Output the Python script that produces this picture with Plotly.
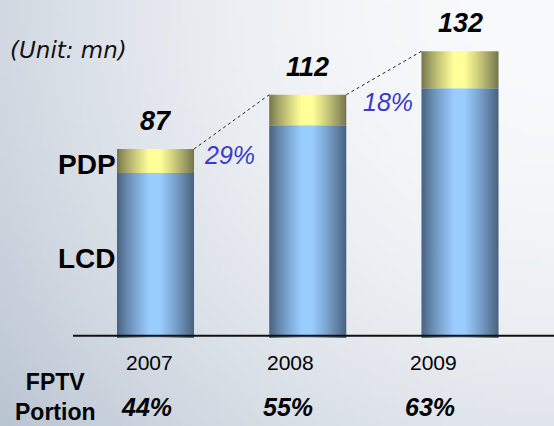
import base64
import struct
import zlib

import numpy as np
import plotly.graph_objects as go

# ---- data -------------------------------------------------------------
years = ["2007", "2008", "2009"]
lcd = [76, 98, 115]
pdp = [11, 14, 17]
totals = [87, 112, 132]
growth_labels = ["29%", "18%"]
fptv_portion = ["44%", "55%", "63%"]

# ---- helpers ----------------------------------------------------------
W, H = 554, 426
FONT = "Liberation Sans, Arial, sans-serif"


def png_data_uri(rgb):
    """Encode an (h, w, 3) uint8 array as a PNG data URI."""
    h, w, _ = rgb.shape
    raw = b"".join(b"\x00" + rgb[r].tobytes() for r in range(h))

    def chunk(tag, data):
        c = tag + data
        return struct.pack(">I", len(data)) + c + struct.pack(">I", zlib.crc32(c) & 0xFFFFFFFF)

    png = (b"\x89PNG\r\n\x1a\n"
           + chunk(b"IHDR", struct.pack(">IIBBBBB", w, h, 8, 2, 0, 0, 0))
           + chunk(b"IDAT", zlib.compress(raw, 9))
           + chunk(b"IEND", b""))
    return "data:image/png;base64," + base64.b64encode(png).decode()


# soft backdrop: light at the top-right corner, darker toward bottom-left
gw, gh = 111, 85
gx, gy = np.meshgrid(np.linspace(0, W, gw), np.linspace(0, H, gh))
d2 = ((W - gx) ** 2 + gy ** 2) / (W ** 2 + H ** 2)
light = np.array([249, 250, 252], float)
dark = np.array([186, 197, 210], float)
bg = light[None, None, :] + (dark - light)[None, None, :] * d2[..., None]
bg_uri = png_data_uri(np.clip(bg, 0, 255).astype(np.uint8))


def cylinder_scale(light_rgb, dark_rgb):
    """Horizontal colorscale: dark edges, bright band just left of centre."""
    def mix(f):
        return "rgb(%d,%d,%d)" % tuple(int(round(d + (l - d) * f)) for l, d in zip(light_rgb, dark_rgb))
    return [[0.0, mix(0.0)], [0.12, mix(0.35)], [0.28, mix(0.72)], [0.42, mix(1.0)],
            [0.56, mix(1.0)], [0.72, mix(0.68)], [0.88, mix(0.3)], [1.0, mix(0.0)]]


LCD_SCALE = cylinder_scale((153, 204, 255), (72, 97, 127))
PDP_SCALE = cylinder_scale((255, 255, 153), (116, 116, 76))

x_idx = list(range(len(years)))
bar_w = 0.506

fig = go.Figure()

# stacked columns with cylinder shading (gradient-filled rectangles)
for i in x_idx:
    x0, x1 = x_idx[i] - bar_w / 2, x_idx[i] + bar_w / 2
    for base, height, scale, name in ((0, lcd[i], LCD_SCALE, "LCD"),
                                      (lcd[i], pdp[i], PDP_SCALE, "PDP")):
        top = base + height
        fig.add_trace(go.Scatter(
            x=[x0, x1, x1, x0, x0], y=[base, base, top, top, base],
            mode="none", fill="toself",
            fillgradient=dict(type="horizontal", colorscale=scale, start=x0, stop=x1),
            name=name, showlegend=False, hoverinfo="skip"))

# dotted connectors between column tops
for i in range(len(years) - 1):
    fig.add_trace(go.Scatter(
        x=[x_idx[i] + bar_w / 2, x_idx[i + 1] - bar_w / 2],
        y=[totals[i], totals[i + 1]],
        mode="lines", line=dict(color="#222222", width=1, dash="dot"),
        showlegend=False, hoverinfo="skip"))

annotations = []

# totals above each column
for i, tot in enumerate(totals):
    annotations.append(dict(
        x=x_idx[i], y=tot, text=f"<b><i>{tot}</i></b>", showarrow=False,
        yanchor="bottom", yshift=11, font=dict(family=FONT, size=27, color="black")))

# growth rates between columns
g_shift = [(-2, -6), (4, -7)]
for i, lab in enumerate(growth_labels):
    annotations.append(dict(
        x=x_idx[i] + 0.5, y=totals[i], text=f"<i>{lab}</i>", showarrow=False,
        xshift=g_shift[i][0], yshift=g_shift[i][1],
        font=dict(family=FONT, size=25, color="#3a3acc")))

# segment names on the left of the first column
annotations.append(dict(
    x=x_idx[0] - bar_w / 2, y=lcd[0] + pdp[0] / 2, text="<b>PDP</b>", showarrow=False,
    xanchor="right", xshift=1, yshift=-4, font=dict(family=FONT, size=28, color="black")))
annotations.append(dict(
    x=x_idx[0] - bar_w / 2, y=lcd[0] / 2, text="<b>LCD</b>", showarrow=False,
    xanchor="right", xshift=1, yshift=-3, font=dict(family=FONT, size=28, color="black")))

# year labels and FPTV share row
label_shift = [-6, -17, -27]
for i, yr in enumerate(years):
    annotations.append(dict(
        x=x_idx[i], y=0, text=yr, showarrow=False, xshift=label_shift[i],
        yanchor="middle", yshift=-24, font=dict(family=FONT, size=21, color="black")))
    annotations.append(dict(
        x=x_idx[i], y=0, text=f"<b><i>{fptv_portion[i]}</i></b>", showarrow=False,
        xshift=label_shift[i] - 3, yanchor="middle", yshift=-69,
        font=dict(family=FONT, size=25, color="black")))

# row heading
annotations.append(dict(
    xref="paper", yref="paper", x=55 / W, y=1 - 397 / H, text="<b>FPTV<br>Portion</b>",
    showarrow=False, xanchor="center", yanchor="middle", borderpad=0,
    font=dict(family=FONT, size=23, color="black")))

annotations.append(dict(
    xref="paper", yref="paper", x=8 / W, y=1 - 50 / H, text="<i>(Unit: mn)</i>",
    showarrow=False, xanchor="left", yanchor="middle",
    font=dict(family="DejaVu Sans, sans-serif", size=23, color="#111111")))

# baseline across the chart
shapes = [dict(type="line", xref="paper", yref="y", x0=73 / W, x1=1, y0=1.0, y1=1.0,
               line=dict(color="#111111", width=2), layer="above")]

px_per_x = 152.25
x_left = -155.5 / px_per_x
x_right = (W - 155.5) / px_per_x
px_per_y = 2.172
y_bottom = -(H - 338) / px_per_y
y_top = 338 / px_per_y

fig.update_layout(
    width=W, height=H, margin=dict(l=0, r=0, t=0, b=0),
    paper_bgcolor="#e4e8ee", plot_bgcolor="rgba(0,0,0,0)",
    xaxis=dict(range=[x_left, x_right], visible=False, fixedrange=True),
    yaxis=dict(range=[y_bottom, y_top], visible=False, fixedrange=True),
    images=[dict(source=bg_uri, xref="paper", yref="paper", x=0, y=1, sizex=1, sizey=1,
                 xanchor="left", yanchor="top", sizing="stretch", layer="below")],
    annotations=annotations, shapes=shapes, showlegend=False,
)

fig.write_html("out.html", config={"displayModeBar": False})
